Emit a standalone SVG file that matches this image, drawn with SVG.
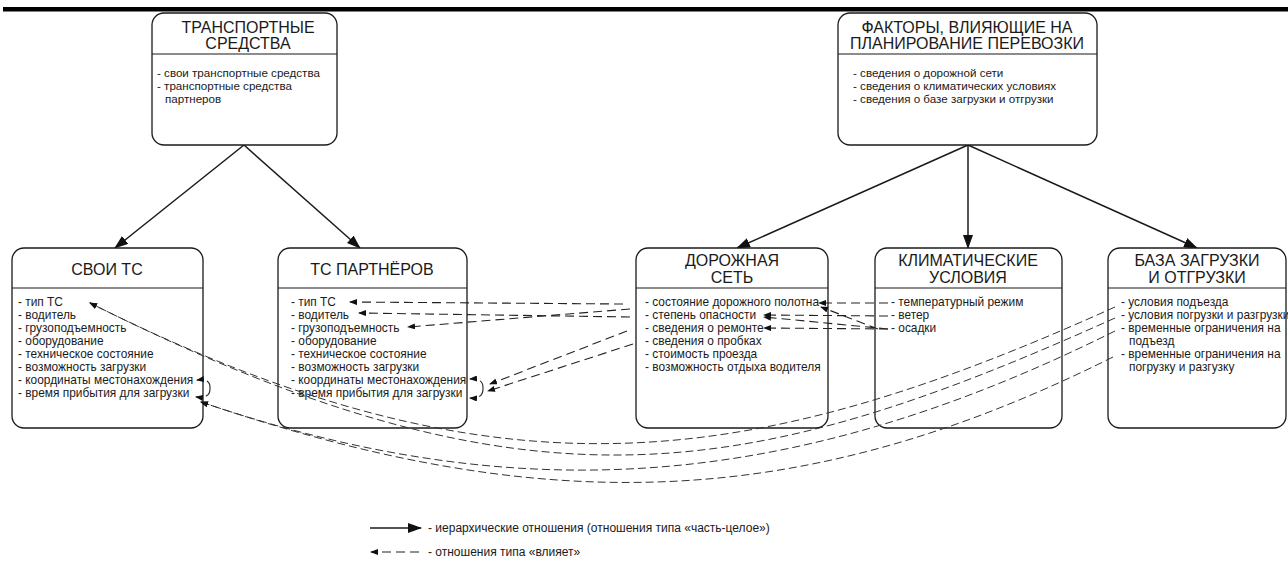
<svg xmlns="http://www.w3.org/2000/svg" width="1288" height="585" viewBox="0 0 1288 585">
<defs>
<style>
.box{fill:#fff;stroke:#1a1a1a;stroke-width:1.3}
.div{stroke:#1a1a1a;stroke-width:1.2}
.t{font-family:"Liberation Sans",Arial,sans-serif;font-size:16px;fill:#1a1a1a;text-anchor:middle}
.i{font-family:"Liberation Sans",Arial,sans-serif;font-size:11.9px;fill:#1a1a1a}
.is{font-family:"Liberation Sans",Arial,sans-serif;font-size:11.6px;fill:#1a1a1a}
.lg{font-family:"Liberation Sans",Arial,sans-serif;font-size:12px;fill:#1a1a1a}
.sol{stroke:#1a1a1a;stroke-width:1.5;fill:none;marker-end:url(#big)}
.dsh{stroke:#222;stroke-width:1.1;fill:none;stroke-dasharray:9 5;marker-end:url(#small)}
.crv{stroke:#333;stroke-width:1;fill:none;stroke-dasharray:8 4;marker-end:url(#small)}
</style>
<marker id="big" markerUnits="userSpaceOnUse" markerWidth="14" markerHeight="10" refX="13" refY="5" orient="auto"><path d="M0,0 L14,5 L0,10 z" fill="#111"/></marker>
<marker id="small" markerUnits="userSpaceOnUse" markerWidth="8" markerHeight="6" refX="7" refY="3" orient="auto"><path d="M0,0 L8,3 L0,6 z" fill="#111"/></marker>
</defs>
<rect x="0" y="0" width="1288" height="585" fill="#fff"/>
<rect x="3" y="7" width="1285" height="4.5" fill="#000"/>

<g id="connectors">
<line class="sol" x1="244" y1="145" x2="115" y2="248"/>
<line class="sol" x1="244" y1="145" x2="360" y2="248"/>
<line class="sol" x1="968" y1="145" x2="737" y2="248"/>
<line class="sol" x1="968" y1="145" x2="968" y2="248"/>
<line class="sol" x1="968" y1="145" x2="1197" y2="248"/>
</g>

<g id="n-transport"><rect class="box" x="152" y="13" width="185" height="132" rx="12"/>
<line class="div" x1="152" y1="54" x2="337" y2="54"/>
<text class="t" x="248" y="33">ТРАНСПОРТНЫЕ</text><text class="t" x="248" y="49">СРЕДСТВА</text>
<text class="is" x="157" y="77">- свои транспортные средства</text>
<text class="is" x="157" y="90">- транспортные средства</text>
<text class="is" x="165" y="103">партнеров</text></g>

<g id="n-factors"><rect class="box" x="838" y="13" width="259" height="132" rx="12"/>
<line class="div" x1="838" y1="54" x2="1097" y2="54"/>
<text class="t" x="967" y="33">ФАКТОРЫ, ВЛИЯЮЩИЕ НА</text><text class="t" x="967" y="49">ПЛАНИРОВАНИЕ ПЕРЕВОЗКИ</text>
<text class="is" x="853" y="77">- сведения о дорожной сети</text>
<text class="is" x="853" y="90">- сведения о климатических условиях</text>
<text class="is" x="853" y="103">- сведения о базе загрузки и отгрузки</text></g>

<g id="n-own"><rect class="box" x="12" y="248" width="191" height="180" rx="12"/>
<line class="div" x1="12" y1="288" x2="203" y2="288"/>
<text class="t" x="107" y="275">СВОИ ТС</text>
<text class="i" x="18" y="306">- тип ТС</text>
<text class="i" x="18" y="319">- водитель</text>
<text class="i" x="18" y="332">- грузоподъемность</text>
<text class="i" x="18" y="345">- оборудование</text>
<text class="i" x="18" y="358">- техническое состояние</text>
<text class="i" x="18" y="371">- возможность загрузки</text>
<text class="i" x="18" y="384">- координаты местонахождения</text>
<text class="i" x="18" y="397">- время прибытия для загрузки</text></g>

<g id="n-partner"><rect class="box" x="278" y="248" width="189" height="180" rx="12"/>
<line class="div" x1="278" y1="288" x2="467" y2="288"/>
<text class="t" x="372" y="275">ТС ПАРТНЁРОВ</text>
<text class="i" x="291" y="306">- тип ТС</text>
<text class="i" x="291" y="319">- водитель</text>
<text class="i" x="291" y="332">- грузоподъемность</text>
<text class="i" x="291" y="345">- оборудование</text>
<text class="i" x="291" y="358">- техническое состояние</text>
<text class="i" x="291" y="371">- возможность загрузки</text>
<text class="i" x="291" y="384">- координаты местонахождения</text>
<text class="i" x="291" y="397">- время прибытия для загрузки</text></g>

<g id="n-road"><rect class="box" x="636" y="248" width="192" height="180" rx="12"/>
<line class="div" x1="636" y1="288" x2="828" y2="288"/>
<text class="t" x="732" y="266">ДОРОЖНАЯ</text><text class="t" x="732" y="283">СЕТЬ</text>
<text class="i" x="645" y="306">- состояние дорожного полотна</text>
<text class="i" x="645" y="319">- степень опасности</text>
<text class="i" x="645" y="332">- сведения о ремонте</text>
<text class="i" x="645" y="345">- сведения о пробках</text>
<text class="i" x="645" y="358">- стоимость проезда</text>
<text class="i" x="645" y="371">- возможность отдыха водителя</text></g>

<g id="n-climate"><rect class="box" x="875" y="248" width="187" height="180" rx="12"/>
<line class="div" x1="875" y1="288" x2="1062" y2="288"/>
<text class="t" x="968" y="266">КЛИМАТИЧЕСКИЕ</text><text class="t" x="968" y="283">УСЛОВИЯ</text>
<text class="i" x="891" y="306">- температурный режим</text>
<text class="i" x="891" y="319">- ветер</text>
<text class="i" x="891" y="332">- осадки</text></g>

<g id="n-base"><rect class="box" x="1108" y="248" width="178" height="180" rx="12"/>
<line class="div" x1="1108" y1="288" x2="1286" y2="288"/>
<text class="t" x="1197" y="266">БАЗА ЗАГРУЗКИ</text><text class="t" x="1197" y="283">И ОТГРУЗКИ</text>
<text class="i" x="1121" y="306">- условия подъезда</text>
<text class="i" x="1121" y="319">- условия погрузки и разгрузки</text>
<text class="i" x="1121" y="332">- временные ограничения на</text>
<text class="i" x="1129" y="345">подъезд</text>
<text class="i" x="1121" y="358">- временные ограничения на</text>
<text class="i" x="1129" y="371">погрузку и разгузку</text></g>

<g id="influence">
<path class="dsh" d="M623,304 L350,302"/>
<path class="dsh" d="M630,317 L359,313"/>
<path class="dsh" d="M630,309 L408,327"/>
<path class="dsh" d="M627,331 L490,384"/>
<path class="dsh" d="M633,344 L488,391"/>
<path class="dsh" d="M483,389 Q484,378 470,379"/>
<path class="dsh" d="M483,389 Q483,399 470,398"/>
<path class="dsh" d="M210,389 Q211,378 197,380"/>
<path class="dsh" d="M210,389 Q210,399 196,397"/>
<path class="dsh" d="M888,303 L819,303"/>
<path class="dsh" d="M888,316 L764,315"/>
<path class="dsh" d="M888,329 L764,317"/>
<path class="dsh" d="M888,329 L764,328"/>
<path class="dsh" d="M878,329 L821,307"/>
<path class="crv" d="M1115,307 C751,471 500,508 90,303"/>
<path class="crv" d="M1115,318 C748,483 530,523 90,303"/>
<path class="crv" d="M1115,331 C784,496 510,507 201,402"/>
<path class="crv" d="M1113,357 C791,518 531,514 201,402"/>
</g>

<g id="legend">
<line class="sol" x1="370" y1="528" x2="421" y2="528"/>
<text class="lg" x="428" y="532">- иерархические отношения (отношения типа «часть-целое»)</text>
<path class="dsh" d="M419,552 L371,552"/>
<text class="lg" x="428" y="556">- отношения типа «влияет»</text>
</g>
</svg>
